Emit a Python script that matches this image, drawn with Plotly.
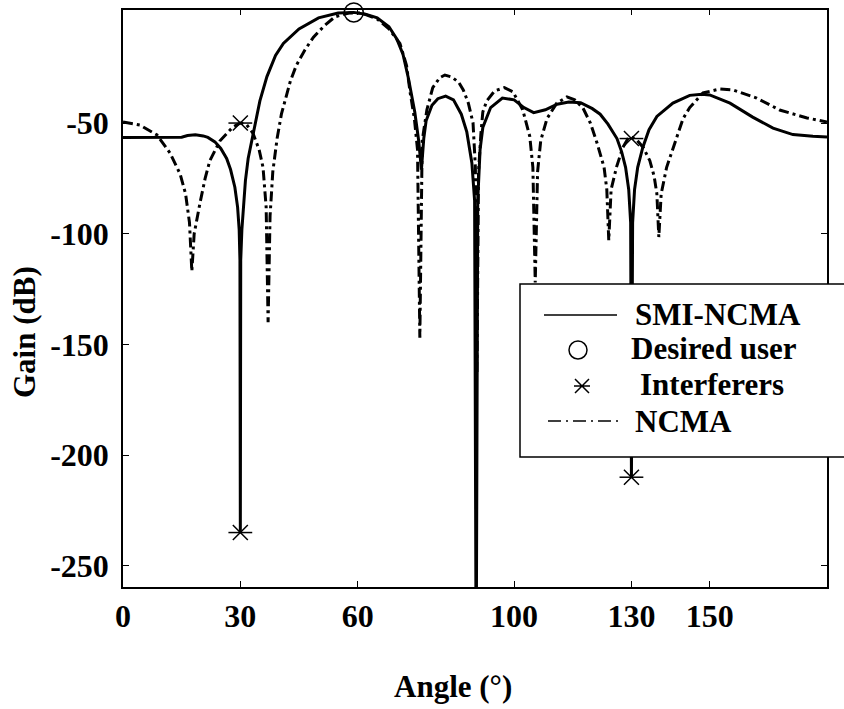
import plotly.graph_objects as go

# ---------------- data ----------------
smi_angle = [0, 5, 10, 15, 16.5, 18.5, 20.5, 21.7, 23.5, 25, 26.5, 27.5, 28.6, 29.3, 29.7, 29.9, 30,
             30.1, 30.4, 30.8, 31.3, 32, 33, 34, 35, 36.8, 39, 41, 45, 50, 55, 59, 62, 65, 68, 70,
             71.6, 73, 74.6, 75.6, 76.3, 76.9, 77.5, 79, 80.5, 82.5, 84.5, 86.5, 87.9, 89.2, 89.9,
             90.3, 90.7, 91.3, 92, 94, 97, 100, 102.5, 105, 108, 111, 114, 117, 120, 122, 124,
             126.3, 127.5, 128.5, 129.3, 129.8, 130, 130.3, 130.8, 131.6, 132.9, 134.5, 136.5,
             140.6, 144.9, 148, 150, 155.2, 161, 166.2, 171.3, 176.4, 180]
smi_gain = [-56.5, -56.5, -56.5, -56.4, -55.6, -55.3, -55.8, -56.5, -58.5, -61.5, -66, -71, -79, -88,
            -98, -112, -235, -112, -98, -88, -76, -66, -57, -48, -40, -29, -19.5, -14, -7.5, -2.5,
            -0.3, 0, -0.8, -2.5, -6.5, -12, -19, -30, -45, -58, -71, -57, -49, -42, -39, -37.8,
            -39.5, -46, -54, -68, -85, -300, -85, -62, -52, -43, -38.7, -39.5, -43, -45.3, -44,
            -41.5, -40.5, -40.8, -43.5, -46, -50.5, -57, -63, -70, -80, -95, -210, -95, -80, -70,
            -61, -53, -47, -41, -37.5, -37, -37.3, -41, -47.3, -52.3, -55.2, -56, -56.3]

ncma_angle = [0, 4.3, 8.7, 12, 14.6, 16, 17, 17.6, 18.2, 19, 19.7, 21, 22.2, 24.8, 28.1, 30, 31.5,
              33.2, 34.8, 35.8, 36.6, 37.1, 37.6, 38.3, 39.4, 40.5, 41.4, 42.8, 44.3, 46.5, 48.7,
              51.5, 54.2, 58, 61, 65, 68, 70.8, 72.5, 73.4, 74.5, 75.3, 75.9, 76.5, 77.7, 79.2, 81,
              82.3, 84, 85.8, 87, 88.3, 89.5, 90.1, 90.5, 90.9, 91.5, 92, 93, 95, 97.5, 99.7, 102.2,
              104, 104.8, 105.4, 106, 106.8, 108.4, 110.9, 113.5, 115.5, 117.6, 119.5, 121.2, 123,
              123.7, 124.2, 124.8, 126.2, 127.8, 129.1, 130, 131.3, 133, 134.7, 135.8, 136.5, 137,
              137.6, 139, 140.6, 142, 143.2, 144.9, 148.3, 152.6, 156, 162, 167.9, 174.9, 180]
ncma_gain = [-49.5, -50.9, -55.4, -63.5, -73, -82, -95, -117, -100, -92, -86, -75, -67, -58, -51.8,
             -50, -50.5, -54.5, -62, -70, -88, -140, -92, -72, -57, -46, -39.6, -31, -24, -17,
             -11.2, -6, -2, -0.2, -0.3, -3, -7.5, -14, -24, -36, -48, -62, -147, -58, -44, -34,
             -29.5, -28.3, -29.2, -31.5, -35, -41, -50, -70, -163, -72, -55, -45, -40, -35.5, -34,
             -35.9, -44, -56, -70, -122, -72, -58, -48, -41, -38.2, -39.5, -43.2, -50, -59, -70,
             -80, -103, -80, -69.8, -61, -57, -56.3, -57.5, -61, -67, -74, -82, -101.5, -82, -70,
             -62, -54, -48, -43, -36.4, -34.6, -35.1, -38.7, -44.1, -47.7, -49.5]

desired_angle = [59]
desired_gain = [0]
interf_angle = [30, 30, 130, 130]
interf_gain = [-50, -235, -57, -210]

x_ticks = [0, 30, 60, 100, 130, 150]
x_ticklabels = ["0", "30", "60", "100", "130", "150"]
y_ticks = [-50, -100, -150, -200, -250]
y_ticklabels = ["-50", "-100", "-150", "-200", "-250"]

legend_labels = ["SMI-NCMA", "Desired user", "Interferers", "NCMA"]

# ---------------- layout helpers (pixel -> paper) ----------------
W, H = 844, 709
def px(x):
    return x / W
def py(y):
    return 1 - y / H

FONT = "Liberation Serif, Times New Roman, serif"

fig = go.Figure()
fig.add_trace(go.Scatter(x=smi_angle, y=smi_gain, mode="lines",
                         line=dict(color="black", width=3), showlegend=False))
fig.add_trace(go.Scatter(x=ncma_angle, y=ncma_gain, mode="lines",
                         line=dict(color="black", width=3, dash="10px,4px,3px,4px"),
                         showlegend=False))
fig.add_trace(go.Scatter(x=desired_angle, y=desired_gain, mode="markers", cliponaxis=False,
                         marker=dict(symbol="circle-open", size=19, color="black",
                                     line=dict(width=1.5, color="black")), showlegend=False))
fig.add_trace(go.Scatter(x=interf_angle, y=interf_gain, mode="markers", cliponaxis=False,
                         marker=dict(symbol="x-thin-open", size=15, color="black",
                                     line=dict(width=1.5, color="black")), showlegend=False))
fig.add_trace(go.Scatter(x=interf_angle, y=interf_gain, mode="markers", cliponaxis=False,
                         marker=dict(symbol="line-ew-open", size=17, color="black",
                                     line=dict(width=1.5, color="black")), showlegend=False))

axis_common = dict(showline=True, linecolor="black", linewidth=1.5, mirror="ticks",
                   ticks="inside", ticklen=6, tickwidth=1, tickcolor="black",
                   showgrid=False, zeroline=False, tickmode="array",
                   tickfont=dict(family=FONT, size=32, color="black", weight="bold"))

fig.update_layout(
    width=W, height=H,
    margin=dict(l=0, r=0, t=0, b=0, autoexpand=False),
    paper_bgcolor="white", plot_bgcolor="white",
    showlegend=False,
    xaxis=dict(range=[0, 180], tickvals=x_ticks, ticktext=x_ticklabels,
               domain=[px(123), px(827)], ticklabelstandoff=0, **axis_common),
    yaxis=dict(range=[-259.6, 1.3], tickvals=y_ticks, ticktext=y_ticklabels,
               domain=[py(587), py(9.5)], ticklabelstandoff=6, **axis_common),
)

# ---------------- axis titles ----------------
annots = [
    dict(text="Angle (°)", x=px(453), y=py(686), xref="paper", yref="paper",
         xanchor="center", yanchor="middle", showarrow=False,
         font=dict(family=FONT, size=31, color="black", weight="bold")),
    dict(text="Gain (dB)", x=px(25), y=py(332), xref="paper", yref="paper", textangle=-90,
         xanchor="center", yanchor="middle", showarrow=False,
         font=dict(family=FONT, size=31, color="black", weight="bold")),
]

# ---------------- manual legend ----------------
shapes = [
    dict(type="rect", xref="paper", yref="paper", x0=px(520), x1=px(860), y0=py(457), y1=py(284),
         fillcolor="white", line=dict(color="black", width=1.5), layer="above"),
    dict(type="line", xref="paper", yref="paper", x0=px(544), x1=px(617), y0=py(315), y1=py(315),
         line=dict(color="black", width=1.5), layer="above"),
    dict(type="circle", xref="paper", yref="paper", x0=px(569), x1=px(587), y0=py(359), y1=py(341),
         line=dict(color="black", width=1.5), layer="above"),
    dict(type="line", xref="paper", yref="paper", x0=px(548), x1=px(622), y0=py(421), y1=py(421),
         line=dict(color="black", width=1.5, dash="13px,5px,2px,5px"), layer="above"),
]
cx, cy, r = 582, 386, 7
star_path = (f"M{px(cx-r)},{py(cy-r)} L{px(cx+r)},{py(cy+r)} "
             f"M{px(cx+r)},{py(cy-r)} L{px(cx-r)},{py(cy+r)} "
             f"M{px(cx-r-1)},{py(cy)} L{px(cx+r+1)},{py(cy)}")
shapes.append(dict(type="path", xref="paper", yref="paper", path=star_path,
                   line=dict(color="black", width=1.5), layer="above"))

legend_x = [633, 629, 638, 633]
legend_y = [314, 348, 384, 421]
for lab, lx, ly in zip(legend_labels, legend_x, legend_y):
    annots.append(dict(text=lab, x=px(lx), y=py(ly), xref="paper", yref="paper",
                       xanchor="left", yanchor="middle", showarrow=False,
                       font=dict(family=FONT, size=31, color="black", weight="bold")))

fig.update_layout(shapes=shapes, annotations=annots)

fig.write_html("out.html", config={"displayModeBar": False},
               post_script="document.body.style.margin='0';document.body.style.overflow='hidden';")
